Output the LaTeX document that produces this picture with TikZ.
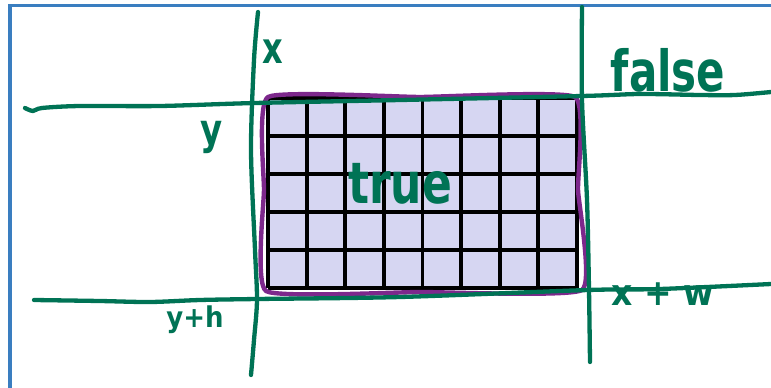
\documentclass[tikz,border=0pt]{standalone}
\usepackage{fontspec}
\setmainfont{DejaVu Sans}
\definecolor{ink}{RGB}{0,115,85}
\definecolor{plum}{RGB}{125,40,140}
\definecolor{lav}{RGB}{214,214,242}
\definecolor{frame}{RGB}{58,126,192}
\begin{document}
\begin{tikzpicture}[x=1pt,y=-1pt,
  pen/.style={draw=ink,line width=4.3pt,line cap=round,line join=round},
  gridline/.style={draw=black,line width=3.8pt},
  outline/.style={draw=plum,line width=4.4pt,line cap=round,line join=round},
  label/.style={text=ink,inner sep=0pt,font=\bfseries\fontsize{#1}{#1}\selectfont},
  label/.default=30]
\useasboundingbox (0,0) rectangle (771,388);
% frame (top and left only)
\draw[draw=frame,line width=3.5pt] (10,388) -- (10,5.5) -- (771,5.5);
% cells
\fill[lav] (268,98) rectangle (577,288);
\foreach \i in {0,...,8} \draw[gridline] ({268+\i*38.6},98) -- ({268+\i*38.6},288);
\foreach \j in {0,...,5} \draw[gridline] (268,{98+\j*38}) -- (577,{98+\j*38});
% purple outline
\draw[outline] plot[smooth cycle,tension=0.25] coordinates {(268,97) (420,97) (575,97) (578,190) (582,290) (420,292) (266,291) (264,190)};
% green lines
\draw[pen] plot[smooth,tension=0.5] coordinates {(25,108) (33,111) (42,108) (80,106) (160,106) (255,103) (400,100) (582,96) (640,94) (700,95) (735,95) (771,92)};
\draw[pen] plot[smooth,tension=0.5] coordinates {(34,300) (100,301) (150,302) (200,300) (257,299) (400,297) (588,290) (660,289) (771,284)};
\draw[pen] plot[smooth,tension=0.5] coordinates {(258,12) (254,60) (251,150) (255,250) (257,300) (254,340) (251,375)};
\draw[pen] plot[smooth,tension=0.5] coordinates {(582,7) (582,100) (587,200) (589,290) (590,362)};
% labels
\node[label=32,yscale=1.35] (lx) at (273,52) {x};
\node[label=34,yscale=1.25] (ly) at (212,137) {y};
\node[label=42,yscale=1.35] (lfalse) at (668,70) {false};
\node[label=44,yscale=1.3] (ltrue) at (400,184) {true};
\node[label=26,yscale=1.1] (lyh) at (195,320) {y+h};
\node[label=33,yscale=1.1] (lxw) at (663,294) {x + w};
\end{tikzpicture}
\end{document}
